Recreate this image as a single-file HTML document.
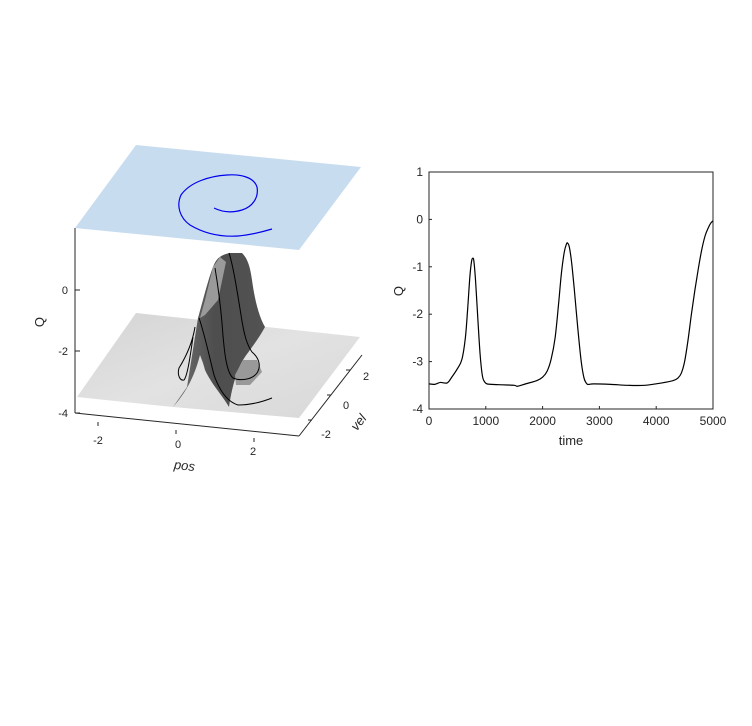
<!DOCTYPE html>
<html><head><meta charset="utf-8"><style>
body{margin:0;background:#fff;}
svg{display:block;font-family:"Liberation Sans",sans-serif;}
</style></head><body>
<svg width="752" height="726" viewBox="0 0 752 726">
<defs>
<linearGradient id="floorG" x1="0" y1="0" x2="1" y2="1">
<stop offset="0" stop-color="#d4d4d4"/><stop offset="0.5" stop-color="#e2e2e2"/><stop offset="1" stop-color="#d8d8d8"/>
</linearGradient>
<linearGradient id="ridgeG" x1="0" y1="0" x2="1" y2="0">
<stop offset="0" stop-color="#707070"/><stop offset="0.45" stop-color="#4e4e4e"/><stop offset="1" stop-color="#525252"/>
</linearGradient>
</defs>
<g>
<polygon points="75,228 136,145 361,167 299,250" fill="#c8dcf0"/>
<path d="M214,208 C222,212 232,213 242,210 C252,207 259,198 257,187 C254,177 240,174 227,175 C210,176 190,182 181,195 C176,206 180,218 190,225 C205,234 222,237 238,236 C250,235 262,232 272,229" fill="none" stroke="#0000ee" stroke-width="1.2"/>
<polygon points="77,397 136,313 360,337 299,418 173,407" fill="url(#floorG)"/>
<path d="M173,407 L187,387 L198,318 C203,300 208,280 213,267 C216,259 220,255 230,253 L242,253 C247,258 250,265 252,280 C254,295 258,315 265,327 C258,340 248,352 243,360 C238,368 232,385 229,407 C222,395 212,385 205,370 C203,362 201,358 200,355 C196,370 190,388 173,407 Z" fill="url(#ridgeG)"/>
<polygon points="213,267 220,257 226,262 218,300 205,315 200,318 205,300" fill="#9a9a9a"/>
<polygon points="243,360 257,360 262,372 250,385 236,385 235,375" fill="#999"/>
<path d="M229,253 C233,265 237,290 241,315 C244,335 247,345 252,352 C258,357 262,365 257,373 C252,380 240,381 233,378 C226,372 224,350 222,323 C220,300 217,280 215,268" fill="none" stroke="#000" stroke-width="1"/>
<path d="M199,318 C204,332 209,355 214,375 C220,392 228,402 238,405 C250,405 262,402 272,398" fill="none" stroke="#000" stroke-width="1"/>
<path d="M195,327 C192,345 184,360 179,368 C177,375 180,381 184,380 C188,375 191,350 193,337" fill="none" stroke="#000" stroke-width="1"/>
<g stroke="#262626" fill="none">
<line x1="75" y1="228" x2="75" y2="413"/>
<line x1="75" y1="290" x2="80" y2="290"/><line x1="75" y1="351" x2="80" y2="351"/><line x1="75" y1="413" x2="80" y2="413"/>
<line x1="75" y1="413" x2="299" y2="436"/><line x1="299" y1="436" x2="362" y2="355"/>
<line x1="98" y1="422" x2="98" y2="426"/><line x1="176" y1="430" x2="176" y2="434"/><line x1="254" y1="438" x2="254" y2="442"/>
<line x1="350" y1="370" x2="346" y2="370"/><line x1="331" y1="395" x2="327" y2="395"/><line x1="312" y1="420" x2="308" y2="420"/>
</g>
<g font-size="11" fill="#262626">
<text x="68" y="294" text-anchor="end">0</text>
<text x="68" y="355" text-anchor="end">-2</text>
<text x="68" y="417" text-anchor="end">-4</text>
<text x="98" y="444" text-anchor="middle">-2</text>
<text x="178" y="448" text-anchor="middle">0</text>
<text x="253" y="455" text-anchor="middle">2</text>
<text x="366" y="380" text-anchor="middle">2</text>
<text x="346" y="409" text-anchor="middle">0</text>
<text x="326" y="438" text-anchor="middle">-2</text>
</g>
<text x="44" y="322" font-size="13" fill="#262626" text-anchor="middle" transform="rotate(-90 44 322)">Q</text>
<text x="184" y="470" font-size="13" font-style="italic" fill="#262626" text-anchor="middle" transform="rotate(6 184 470)">pos</text>
<text x="362" y="425" font-size="13" font-style="italic" fill="#262626" text-anchor="middle" transform="rotate(-52 362 425)">vel</text>
</g>
<g id="chart2"></g>
</svg>
<script>
const times=[0,100,200,320,400,500,580,640,680,720,750,770,790,820,860,900,940,980,1020,1100,1300,1500,1560,1700,1900,2000,2080,2150,2220,2280,2330,2380,2420,2440,2470,2510,2560,2620,2680,2730,2780,2820,2900,3200,3500,3800,4100,4300,4380,4440,4500,4560,4620,4680,4740,4800,4860,4920,4960,5000];
const qValues=[-3.47,-3.48,-3.44,-3.45,-3.33,-3.15,-2.95,-2.5,-1.9,-1.2,-0.88,-0.82,-0.88,-1.3,-2.1,-2.85,-3.3,-3.43,-3.47,-3.48,-3.49,-3.5,-3.52,-3.47,-3.4,-3.33,-3.2,-2.95,-2.5,-1.8,-1.15,-0.7,-0.52,-0.5,-0.58,-0.9,-1.5,-2.3,-3.0,-3.35,-3.47,-3.48,-3.47,-3.48,-3.5,-3.5,-3.45,-3.4,-3.35,-3.25,-3.0,-2.55,-2.0,-1.5,-1.05,-0.65,-0.35,-0.17,-0.08,-0.03];
const xTicks=[0,1000,2000,3000,4000,5000];
const yTicks=[1,0,-1,-2,-3,-4];
const NS="http://www.w3.org/2000/svg";
const g=document.getElementById('chart2');
const L=429,R=713,T=172,B=409;
const xs=v=>L+(v-0)/5000*(R-L);
const ys=v=>T+(1-v)/5*(B-T);
function mk(t,a){const e=document.createElementNS(NS,t);for(const k in a)e.setAttribute(k,a[k]);g.appendChild(e);return e;}
const box=mk('rect',{x:L,y:T,width:R-L,height:B-T,fill:'none',stroke:'#262626'});


xTicks.forEach(v=>{
 mk('line',{x1:xs(v),x2:xs(v),y1:B,y2:B-3,stroke:'#262626'});
 const t=mk('text',{x:xs(v),y:B+16,'font-size':12,fill:'#262626','text-anchor':'middle'});t.textContent=v;
 
 
});
yTicks.forEach(v=>{
 mk('line',{x1:L,x2:L+3,y1:ys(v),y2:ys(v),stroke:'#262626'});
 const t=mk('text',{x:L-6,y:ys(v)+4,'font-size':12,fill:'#262626','text-anchor':'end'});t.textContent=v;
 
 
});
const xt=mk('text',{x:(L+R)/2,y:B+36,'font-size':13,fill:'#262626','text-anchor':'middle'});xt.textContent='time';


const yt=mk('text',{x:403,y:291,'font-size':13,fill:'#262626','text-anchor':'middle',transform:'rotate(-90 403 291)'});yt.textContent='Q';


const pts=times.map((t,i)=>[xs(t),ys(qValues[i])]);
let d='M'+pts[0][0]+','+pts[0][1];
for(let i=0;i<pts.length-1;i++){
 const p0=pts[Math.max(0,i-1)],p1=pts[i],p2=pts[i+1],p3=pts[Math.min(pts.length-1,i+2)];
 const c1=[p1[0]+(p2[0]-p0[0])/6,p1[1]+(p2[1]-p0[1])/6],c2=[p2[0]-(p3[0]-p1[0])/6,p2[1]-(p3[1]-p1[1])/6];
 d+=' C'+c1[0]+','+c1[1]+' '+c2[0]+','+c2[1]+' '+p2[0]+','+p2[1];
}
const ln=mk('path',{d:d,fill:'none',stroke:'#000','stroke-width':1.2,'stroke-linejoin':'round'});


</script>
</body></html>
